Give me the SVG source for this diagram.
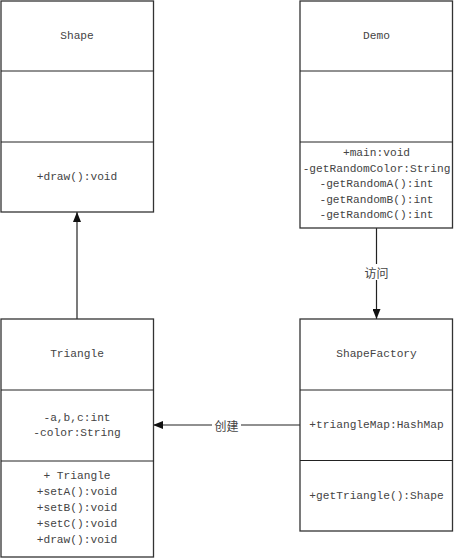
<svg xmlns="http://www.w3.org/2000/svg" width="454" height="558" viewBox="0 0 454 558">
<style>
.box{fill:#fff;stroke:#333;stroke-width:1.3}
.div{stroke:#222;stroke-width:1}
.t{font-family:"Liberation Mono","Noto Sans CJK SC",monospace;font-size:11.2px;fill:#444;text-anchor:middle;dominant-baseline:central}
.lbl{font-family:"Noto Sans CJK SC",sans-serif;font-size:12px;fill:#444;text-anchor:middle;dominant-baseline:central}
.c{stroke:#222;stroke-width:1.2;fill:none}
</style>
<defs>
<marker id="arr" markerWidth="10" markerHeight="8" refX="10" refY="4" orient="auto" markerUnits="userSpaceOnUse">
<path d="M0,0 L10,4 L0,8 Z" fill="#111"/>
</marker>
</defs>
<g id="connectors">
<line class="c" x1="77" y1="319" x2="77" y2="212" marker-end="url(#arr)"/>
<line class="c" x1="376.5" y1="228" x2="376.5" y2="319" marker-end="url(#arr)"/>
<line class="c" x1="300" y1="425" x2="153" y2="425" marker-end="url(#arr)"/>
<rect x="362" y="264" width="29" height="16" fill="#fff"/>
<text class="lbl" x="376.5" y="272">访问</text>
<rect x="212" y="417" width="29" height="16" fill="#fff"/>
<text class="lbl" x="226.5" y="425">创建</text>
</g>
<g id="shape">
<rect class="box" x="1" y="1" width="152.5" height="211"/>
<line class="div" x1="1" y1="71" x2="153.5" y2="71"/>
<line class="div" x1="1" y1="142" x2="153.5" y2="142"/>
<text class="t" x="77" y="36">Shape</text>
<text class="t" x="77" y="177">+draw():void</text>
</g>
<g id="demo">
<rect class="box" x="300" y="1" width="152.5" height="227"/>
<line class="div" x1="300" y1="71" x2="452.5" y2="71"/>
<line class="div" x1="300" y1="142" x2="452.5" y2="142"/>
<text class="t" x="376.5" y="36">Demo</text>
<text class="t" x="376.5" y="153">+main:void</text>
<text class="t" x="376.5" y="168.5">-getRandomColor:String</text>
<text class="t" x="376.5" y="184">-getRandomA():int</text>
<text class="t" x="376.5" y="199.5">-getRandomB():int</text>
<text class="t" x="376.5" y="215">-getRandomC():int</text>
</g>
<g id="triangle">
<rect class="box" x="1" y="319" width="152.5" height="238"/>
<line class="div" x1="1" y1="390" x2="153.5" y2="390"/>
<line class="div" x1="1" y1="461" x2="153.5" y2="461"/>
<text class="t" x="77" y="354">Triangle</text>
<text class="t" x="77" y="417.5">-a,b,c:int</text>
<text class="t" x="77" y="433">-color:String</text>
<text class="t" x="77" y="476">+ Triangle</text>
<text class="t" x="77" y="492">+setA():void</text>
<text class="t" x="77" y="508">+setB():void</text>
<text class="t" x="77" y="524">+setC():void</text>
<text class="t" x="77" y="540">+draw():void</text>
</g>
<g id="shapefactory">
<rect class="box" x="300" y="319" width="152.5" height="212"/>
<line class="div" x1="300" y1="390" x2="452.5" y2="390"/>
<line class="div" x1="300" y1="460.5" x2="452.5" y2="460.5"/>
<text class="t" x="376.5" y="354">ShapeFactory</text>
<text class="t" x="376.5" y="425">+triangleMap:HashMap</text>
<text class="t" x="376.5" y="495.5">+getTriangle():Shape</text>
</g>
</svg>
